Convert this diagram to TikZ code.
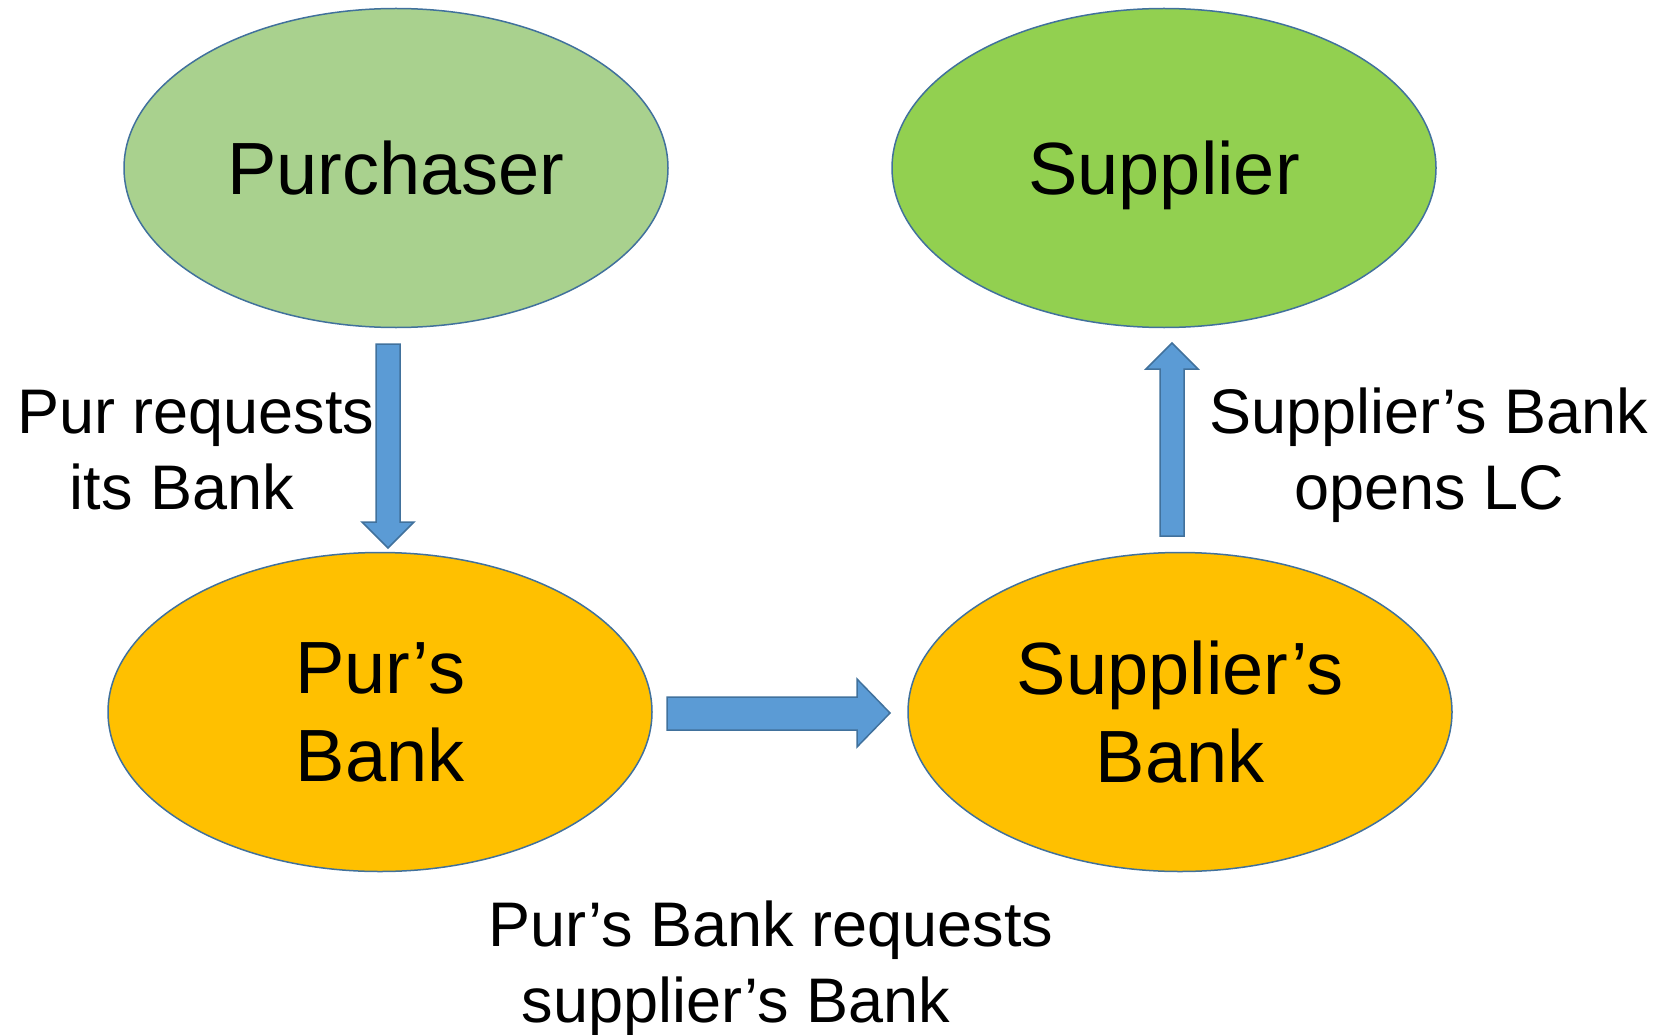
\documentclass[tikz,border=0pt]{standalone}
\usepackage{fontspec}
\setmainfont{Liberation Sans}
\usetikzlibrary{shapes.geometric}
\definecolor{lightgreen}{HTML}{A9D18E}
\definecolor{brightgreen}{HTML}{92D050}
\definecolor{bankgold}{HTML}{FFC000}
\definecolor{edgeblue}{HTML}{41719C}
\definecolor{arrowblue}{HTML}{5B9BD5}
\tikzset{
  party/.style={ellipse, draw=edgeblue, line width=1.5pt, minimum width=544pt,
    minimum height=319pt, inner sep=0pt, align=center, text depth=0pt,
    font=\fontsize{74}{88}\selectfont},
  caption/.style={align=center, inner sep=0pt, font=\fontsize{63}{76}\selectfont},
  blockarrow/.style={fill=arrowblue, draw=edgeblue, line width=1.5pt, line join=miter}
}
\begin{document}
\begin{tikzpicture}[x=1pt,y=-1pt]
\useasboundingbox (0,0) rectangle (1664,1035);
% parties and their banks
\node[party, fill=lightgreen] (pur) at (396,168) {Purchaser};
\node[party, fill=brightgreen] (sup) at (1164,168) {Supplier};
\node[party, fill=bankgold] (purbank) at (380,712) {Pur’s\\Bank};
\node[party, fill=bankgold] (supbank) at (1180,712) {Supplier’s\\Bank};
% block arrows showing the flow of the request
\draw[blockarrow] (376,344) -- (400,344) -- (400,522) -- (414,522) -- (388,548)
  -- (362,522) -- (376,522) -- cycle;
\draw[blockarrow] (667,697) -- (857,697) -- (857,679) -- (890,713) -- (857,747)
  -- (857,730) -- (667,730) -- cycle;
\draw[blockarrow] (1160,536) -- (1160,369) -- (1146,369) -- (1172,343) -- (1198,369)
  -- (1184,369) -- (1184,536) -- cycle;
% step descriptions
\node[caption] (c1) at (196,450) {Pur requests\\its Bank\kern28pt};
\node[caption] (c2) at (1429,455) {Supplier’s Bank\\opens LC};
\node[caption] (c3) at (771,968) {Pur’s Bank requests\\supplier’s Bank\kern70pt};
\end{tikzpicture}
\end{document}
